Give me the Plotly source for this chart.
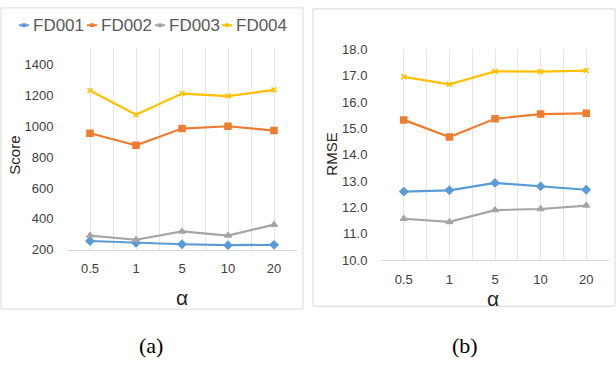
import plotly.graph_objects as go

# data
alpha = ["0.5", "1", "5", "10", "20"]
series = ["FD001", "FD002", "FD003", "FD004"]
score_fd001 = [256, 244, 235, 229, 231]
score_fd002 = [955, 877, 985, 1000, 972]
score_fd003 = [291, 264, 318, 291, 362]
score_fd004 = [1232, 1075, 1212, 1196, 1236]
rmse_fd001 = [12.60, 12.65, 12.93, 12.80, 12.67]
rmse_fd002 = [15.32, 14.67, 15.36, 15.54, 15.57]
rmse_fd003 = [11.57, 11.45, 11.90, 11.94, 12.07]
rmse_fd004 = [16.95, 16.67, 17.16, 17.15, 17.19]
score_ticks = [200, 400, 600, 800, 1000, 1200, 1400]
rmse_ticks = [10, 11, 12, 13, 14, 15, 16, 17, 18]

COLORS = ["#5B9BD5", "#ED7D31", "#A5A5A5", "#FFC000"]
SYMBOLS = ["diamond", "square", "triangle-up", "x-thin-open"]
SIZES = [6, 6, 6, 5]
GRID = "#E6E6E6"
FRAME = "#D9D9D9"
TICK_FONT = dict(family="Liberation Sans, Arial", size=13, color="#404040")
W, H = 616, 366

def px_x(x):
    return x / W

def px_y(y):
    return 1 - y / H

fig = go.Figure()

xs = list(range(len(alpha)))
score_data = [score_fd001, score_fd002, score_fd003, score_fd004]
rmse_data = [rmse_fd001, rmse_fd002, rmse_fd003, rmse_fd004]

for i, name in enumerate(series):
    mk = dict(symbol=SYMBOLS[i], size=SIZES[i], color=COLORS[i],
              line=dict(color=COLORS[i], width=1.5))
    fig.add_trace(go.Scatter(x=xs, y=score_data[i], mode="lines+markers", name=name,
                             line=dict(color=COLORS[i], width=2.2), marker=mk,
                             xaxis="x", yaxis="y", showlegend=False))
    fig.add_trace(go.Scatter(x=xs, y=rmse_data[i], mode="lines+markers", name=name,
                             line=dict(color=COLORS[i], width=2.2), marker=mk,
                             xaxis="x2", yaxis="y2", showlegend=False))

# gridlines at categories and half-way between them
grid_vals = [v / 2 for v in range(-1, 2 * len(alpha))]
grid_text = [alpha[int(v)] if float(v).is_integer() and 0 <= v < len(alpha) else "" for v in grid_vals]

xaxis_common = dict(range=[-0.5, len(alpha) - 0.5], tickvals=grid_vals, ticktext=grid_text,
                    showgrid=True, gridcolor=GRID, gridwidth=1, zeroline=False,
                    showline=True, linecolor=FRAME, linewidth=1,
                    ticks="outside", ticklen=7, tickcolor="rgba(0,0,0,0)",
                    tickfont=TICK_FONT, fixedrange=True)

fig.update_layout(
    width=W, height=H, margin=dict(l=0, r=0, t=0, b=0),
    paper_bgcolor="white", plot_bgcolor="white",
    xaxis=dict(domain=[px_x(67), px_x(297)], anchor="y", **xaxis_common),
    yaxis=dict(domain=[px_y(253), px_y(43)], anchor="x", range=[200, 1506],
               tickvals=score_ticks, showgrid=False, zeroline=False, showline=False,
               ticks="outside", ticklen=10, tickcolor="rgba(0,0,0,0)", tickfont=TICK_FONT,
               fixedrange=True),
    xaxis2=dict(domain=[px_x(381), px_x(609)], anchor="y2", **xaxis_common),
    yaxis2=dict(domain=[px_y(264), px_y(44)], anchor="x2", range=[10, 18],
                tickvals=rmse_ticks, tickformat=".1f", showgrid=False, zeroline=False,
                showline=False, ticks="outside", ticklen=10, tickcolor="rgba(0,0,0,0)",
                tickfont=TICK_FONT, fixedrange=True),
)

# panel frames
fig.add_shape(type="rect", xref="paper", yref="paper", x0=px_x(1), x1=px_x(303),
              y0=px_y(315), y1=px_y(1), line=dict(color=FRAME, width=1))
fig.add_shape(type="rect", xref="paper", yref="paper", x0=px_x(313), x1=px_x(615),
              y0=px_y(312), y1=px_y(2), line=dict(color=FRAME, width=1))

# axis titles and captions
ann = [
    dict(text="Score", x=px_x(15), y=px_y(155), textangle=-90, font=dict(size=15, color="#262626")),
    dict(text="RMSE", x=px_x(332), y=px_y(154), textangle=-90, font=dict(size=15, color="#262626")),
    dict(text="α", x=px_x(182), y=px_y(303), font=dict(size=21, color="#262626")),
    dict(text="α", x=px_x(493), y=px_y(304), font=dict(size=21, color="#262626")),
    dict(text="(a)", x=px_x(151), y=px_y(353), font=dict(size=22, color="black", family="Liberation Serif")),
    dict(text="(b)", x=px_x(465), y=px_y(353), font=dict(size=22, color="black", family="Liberation Serif")),
]
for a in ann:
    f = dict(family="Liberation Sans, Arial")
    f.update(a.pop("font"))
    fig.add_annotation(xref="paper", yref="paper", showarrow=False, xanchor="center",
                       yanchor="middle", font=f, **a)

# compact legend like Excel's
leg_sym_x = [24, 92, 160, 227]
for i, name in enumerate(series):
    cx = leg_sym_x[i]
    fig.add_shape(type="line", xref="paper", yref="paper", x0=px_x(cx - 5), x1=px_x(cx + 5),
                  y0=px_y(19), y1=px_y(19), line=dict(color=COLORS[i], width=2))
    fig.add_shape(type="rect", xref="paper", yref="paper", x0=px_x(cx - 2), x1=px_x(cx + 2),
                  y0=px_y(21), y1=px_y(17), line=dict(width=0), fillcolor=COLORS[i])
    fig.add_annotation(xref="paper", yref="paper", showarrow=False, text=name,
                       x=px_x(cx + 7), y=px_y(19), xanchor="left", yanchor="middle",
                       font=dict(family="Liberation Sans, Arial", size=17, color="#595959"))

fig.write_html("out.html", config={"displayModeBar": False},
               post_script="document.body.style.margin='0';")
